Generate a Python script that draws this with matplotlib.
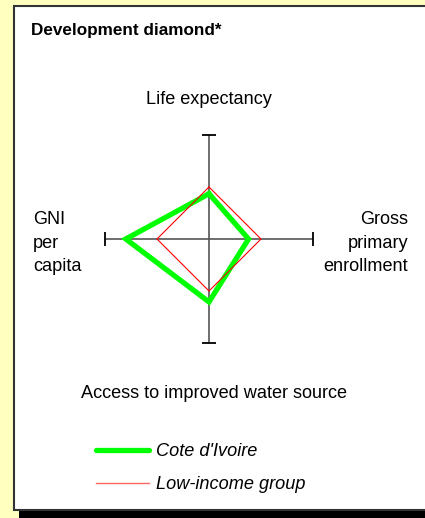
import numpy as np
import matplotlib.pyplot as plt
from matplotlib.patches import Rectangle
from matplotlib.lines import Line2D

plt.rcParams['font.family'] = ['Liberation Sans', 'DejaVu Sans']

# diamond axes: top, right, bottom, left
axis_names = ['Life expectancy', 'Gross primary enrollment',
              'Access to improved water source', 'GNI per capita']
angles_deg = [90, 0, 270, 180]
cote_ivoire = [0.87, 0.76, 1.21, 1.60]
low_income = [1.0, 1.0, 1.0, 1.0]
series_names = ["Cote d'Ivoire", 'Low-income group']

W, H = 425, 518
fig = plt.figure(figsize=(W / 100, H / 100), dpi=100, facecolor='#FFFFC0')

# background panel drawn in pixel coordinates
bg = fig.add_axes([0, 0, 1, 1])
bg.set_xlim(0, W)
bg.set_ylim(H, 0)
bg.axis('off')
bg.add_patch(Rectangle((19, 510), W - 19, 8, facecolor='black', edgecolor='none'))
bg.add_patch(Rectangle((14, 6), W - 14 + 5, 504, facecolor='white',
                       edgecolor='#333333', linewidth=1.5))

bg.text(31, 30, 'Development diamond*', fontsize=12.3, fontweight='bold',
        ha='left', va='center')
bg.text(209, 100, axis_names[0], fontsize=13.1, ha='center', va='center')
bg.text(214, 393, axis_names[2], fontsize=13.1, ha='center', va='center')
bg.text(33, 243, 'GNI\nper\ncapita', fontsize=13.1, ha='left', va='center',
        linespacing=1.52)
bg.text(408, 243, 'Gross\nprimary\nenrollment', fontsize=13.1, ha='right',
        va='center', linespacing=1.52, multialignment='right')

# diamond
ax = fig.add_axes([105 / W, 1 - 343 / H, 208 / W, 208 / H])
ax.set_xlim(-2, 2)
ax.set_ylim(-2, 2)
ax.axis('off')

ax.plot([-2, 2], [0, 0], color='#555555', lw=1.2, zorder=1)
ax.plot([0, 0], [-2, 2], color='#555555', lw=1.2, zorder=1)
ax.plot([-2, 2], [0, 0], ls='none', marker='|', ms=10, mew=1.3, color='black', clip_on=False)
ax.plot([0, 0], [-2, 2], ls='none', marker='_', ms=10, mew=1.3, color='black', clip_on=False)

ang = np.deg2rad(angles_deg + angles_deg[:1])
v1 = np.array(cote_ivoire + cote_ivoire[:1])
v2 = np.array(low_income + low_income[:1])
ax.plot(v1 * np.cos(ang), v1 * np.sin(ang), color='#00FF00', lw=3.8,
        solid_joinstyle='miter', zorder=2)
ax.plot(v2 * np.cos(ang), v2 * np.sin(ang), color='red', lw=0.8, zorder=3)

handles = [Line2D([], [], color='#00FF00', lw=3.8, solid_capstyle='round'),
           Line2D([], [], color='#FF6666', lw=1.0)]
leg = fig.legend(handles, series_names, loc='upper left',
                 bbox_to_anchor=(96 / W, 1 - 443 / H), frameon=False,
                 prop={'size': 13.1, 'style': 'italic'}, handlelength=2.9,
                 handletextpad=0.4, labelspacing=0.88, borderpad=0,
                 borderaxespad=0)

fig.savefig('out.png', dpi=100, facecolor=fig.get_facecolor())
